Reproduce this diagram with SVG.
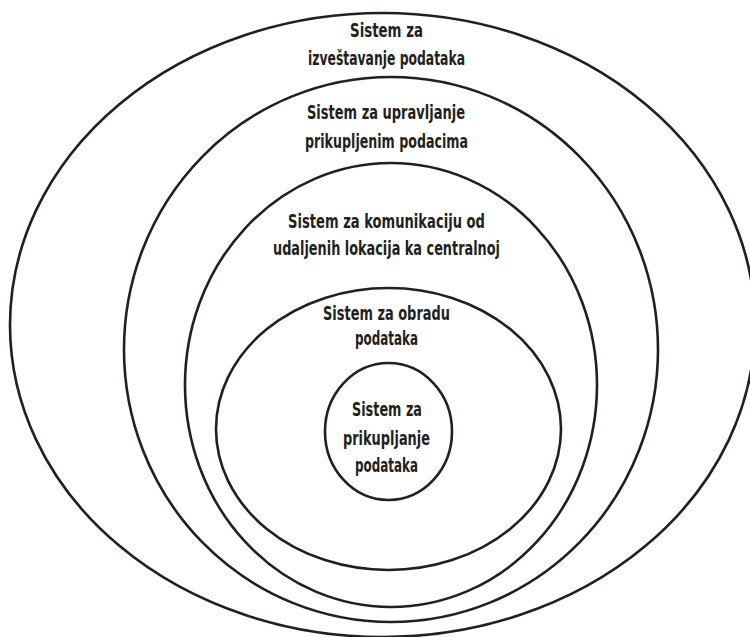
<svg xmlns="http://www.w3.org/2000/svg" width="750" height="637" viewBox="0 0 750 637">
  <style>
    .ring { fill: none; stroke: #231f20; stroke-width: 2.6; }
    .lbl { font-family: "Liberation Sans Narrow", "DejaVu Sans Condensed", "Liberation Sans", sans-serif; font-weight: bold; font-size: 20px; fill: #231f20; text-anchor: start; }
  </style>
  <rect width="750" height="637" fill="#ffffff"/>

  <!-- Outermost layer: reporting -->
  <g id="izvestavanje">
    <ellipse class="ring" cx="382.5" cy="325" rx="372.5" ry="312"/>
    <text class="lbl" x="350" y="37" textLength="73" lengthAdjust="spacingAndGlyphs">Sistem za</text>
    <text class="lbl" x="308" y="65" textLength="157" lengthAdjust="spacingAndGlyphs">izveštavanje podataka</text>
  </g>

  <!-- Management of collected data -->
  <g id="upravljanje">
    <ellipse class="ring" cx="391" cy="349.5" rx="267" ry="272.5"/>
    <text class="lbl" x="307" y="119" textLength="158" lengthAdjust="spacingAndGlyphs">Sistem za upravljanje</text>
    <text class="lbl" x="305" y="148" textLength="163" lengthAdjust="spacingAndGlyphs">prikupljenim podacima</text>
  </g>

  <!-- Communication from remote sites -->
  <g id="komunikacija">
    <ellipse class="ring" cx="391" cy="385" rx="206" ry="222"/>
    <text class="lbl" x="288" y="228" textLength="197" lengthAdjust="spacingAndGlyphs">Sistem za komunikaciju od</text>
    <text class="lbl" x="273" y="255" textLength="227" lengthAdjust="spacingAndGlyphs">udaljenih lokacija ka centralnoj</text>
  </g>

  <!-- Processing -->
  <g id="obrada">
    <ellipse class="ring" cx="388.5" cy="429" rx="172.5" ry="141"/>
    <text class="lbl" x="323" y="320" textLength="127" lengthAdjust="spacingAndGlyphs">Sistem za obradu</text>
    <text class="lbl" x="355" y="345" textLength="63" lengthAdjust="spacingAndGlyphs">podataka</text>
  </g>

  <!-- Core: data acquisition -->
  <g id="prikupljanje">
    <ellipse class="ring" cx="388.5" cy="431.5" rx="63.5" ry="68.5"/>
    <text class="lbl" x="352" y="416" textLength="70" lengthAdjust="spacingAndGlyphs">Sistem za</text>
    <text class="lbl" x="343" y="445" textLength="87" lengthAdjust="spacingAndGlyphs">prikupljanje</text>
    <text class="lbl" x="355" y="472" textLength="63" lengthAdjust="spacingAndGlyphs">podataka</text>
  </g>

  <g id="connectors"/>
</svg>
